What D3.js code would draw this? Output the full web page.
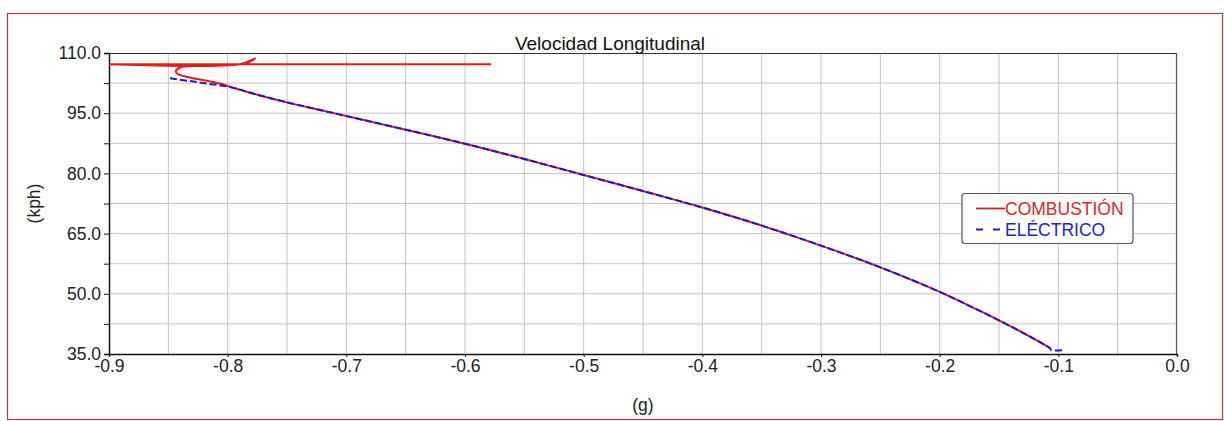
<!DOCTYPE html>
<html>
<head>
<meta charset="utf-8">
<script src="https://cdn.jsdelivr.net/npm/d3@7"></script>
<style>
  html, body { margin: 0; padding: 0; background: #ffffff; }
  svg { display: block; font-family: "Liberation Sans", Arial, sans-serif; }
</style>
</head>
<body>
<svg id="chart" width="1224" height="421"></svg>
<script>
// ---- data ----
const title = "Velocidad Longitudinal";
const xLabel = "(g)";
const yLabel = "(kph)";
const xTickValues = [-0.9, -0.8, -0.7, -0.6, -0.5, -0.4, -0.3, -0.2, -0.1, 0.0];
const yTickValues = [35, 50, 65, 80, 95, 110];
const seriesNames = ["COMBUSTIÓN", "ELÉCTRICO"];

const combustionG = [-0.578, -0.9, -0.79, -0.777, -0.786, -0.81, -0.826, -0.840, -0.8436, -0.8424, -0.8317, -0.8177, -0.8065, -0.798,
  -0.775, -0.75, -0.725, -0.70, -0.65, -0.60, -0.55, -0.50, -0.45, -0.40, -0.35, -0.30, -0.25, -0.20, -0.175, -0.15, -0.125, -0.107];
const combustionKph = [107.2, 107.2, 107.2, 108.6, 107.3, 107.0, 106.8, 106.4, 105.6, 104.8, 103.9, 103.1, 102.4, 101.6,
  99.6, 97.7, 96.0, 94.3, 90.9, 87.4, 83.6, 79.6, 75.6, 71.5, 67.0, 62.0, 56.6, 50.5, 47.0, 43.4, 39.5, 36.5];

const electricG = [-0.8486, -0.8317, -0.8177, -0.798,
  -0.775, -0.75, -0.725, -0.70, -0.65, -0.60, -0.55, -0.50, -0.45, -0.40, -0.35, -0.30, -0.25, -0.20, -0.175, -0.15, -0.125, -0.107, -0.106, -0.095];
const electricKph = [103.7, 103.0, 102.4, 101.5,
  99.6, 97.7, 96.0, 94.3, 90.9, 87.4, 83.6, 79.6, 75.6, 71.5, 67.0, 62.0, 56.6, 50.5, 47.0, 43.4, 39.5, 36.4, 36.0, 36.0];

// ---- layout ----
const svg = d3.select("#chart");
const L = 109, R = 1177, T = 53, B = 354;
const x = d3.scaleLinear().domain([-0.9, 0.0]).range([L, R]);
const y = d3.scaleLinear().domain([35, 110]).range([B, T]);

// outer frame
svg.append("rect").attr("x", 7.5).attr("y", 13.5).attr("width", 1215).attr("height", 406)
  .attr("fill", "#ffffff").attr("stroke", "#b33a3a").attr("stroke-width", 1.2);

// grid
const gridX = d3.range(-0.85, 0.0, 0.05);
const gridY = d3.range(42.5, 110, 7.5);
svg.append("g").selectAll("line").data(gridX).join("line")
  .attr("x1", d => x(d)).attr("x2", d => x(d)).attr("y1", T).attr("y2", B)
  .attr("stroke", "#c4c4c4").attr("stroke-width", 1);
svg.append("g").selectAll("line").data(gridY).join("line")
  .attr("x1", L).attr("x2", R).attr("y1", d => y(d)).attr("y2", d => y(d))
  .attr("stroke", "#c4c4c4").attr("stroke-width", 1);

// plot frame (top + right)
svg.append("line").attr("x1", L).attr("x2", R).attr("y1", T + 0.5).attr("y2", T + 0.5)
  .attr("stroke", "#333").attr("stroke-width", 1.2);
svg.append("line").attr("x1", R - 0.5).attr("x2", R - 0.5).attr("y1", T).attr("y2", B)
  .attr("stroke", "#555").attr("stroke-width", 1.2);

// axes
const yAxis = d3.axisLeft(y).tickValues(d3.range(35, 110.01, 7.5)).tickSize(5)
  .tickFormat(d => yTickValues.includes(d) ? d.toFixed(1) : "");
const gy = svg.append("g").attr("transform", `translate(${L},0)`).call(yAxis);
gy.select(".domain").attr("stroke", "#111").attr("stroke-width", 1.5);
gy.selectAll(".tick line").attr("stroke", "#111");
gy.selectAll(".tick text").attr("font-size", 17.5).attr("fill", "#222").attr("x", -8)
  .attr("font-family", "Liberation Sans, Arial, sans-serif");

const xAxis = d3.axisBottom(x).tickValues(xTickValues).tickSize(3).tickFormat(d => d.toFixed(1));
const gx = svg.append("g").attr("transform", `translate(0,${B})`).call(xAxis);
gx.select(".domain").attr("stroke", "#111").attr("stroke-width", 1.5);
gx.selectAll(".tick line").attr("stroke", "#111");
gx.selectAll(".tick text").attr("font-size", 17.5).attr("fill", "#222").attr("y", 6)
  .attr("font-family", "Liberation Sans, Arial, sans-serif");

// titles
svg.append("text").attr("x", 610).attr("y", 50).attr("text-anchor", "middle")
  .attr("font-size", 19).attr("fill", "#111").text(title);
svg.append("text").attr("x", 643).attr("y", 411).attr("text-anchor", "middle")
  .attr("font-size", 17.5).attr("fill", "#222").text(xLabel);
svg.append("text").attr("transform", `translate(40,${(T + B) / 2}) rotate(-90)`).attr("text-anchor", "middle")
  .attr("font-size", 17.5).attr("fill", "#222").text(yLabel);

// clip
svg.append("clipPath").attr("id", "clip").append("rect")
  .attr("x", L).attr("y", T - 2).attr("width", R - L).attr("height", B - T + 2);

const line = d3.line().x(d => x(d[0])).y(d => y(d[1])).curve(d3.curveCatmullRom.alpha(0.5));
const combustion = combustionG.map((g, i) => [g, combustionKph[i]]);
const electric = electricG.map((g, i) => [g, electricKph[i]]);

const plot = svg.append("g").attr("clip-path", "url(#clip)");
plot.append("path").datum(combustion).attr("d", line)
  .attr("fill", "none").attr("stroke", "#e8191b").attr("stroke-width", 2).attr("stroke-linejoin", "round");
plot.append("path").datum(electric).attr("d", line)
  .attr("fill", "none").attr("stroke", "#1a1ac8").attr("stroke-width", 2).attr("stroke-dasharray", "7,3");

// legend
const lg = svg.append("g");
lg.append("rect").attr("x", 962).attr("y", 193.5).attr("width", 171).attr("height", 50).attr("rx", 3)
  .attr("fill", "#ffffff").attr("stroke", "#555").attr("stroke-width", 1.2);
lg.append("line").attr("x1", 976).attr("x2", 1005).attr("y1", 208.5).attr("y2", 208.5)
  .attr("stroke", "#d42025").attr("stroke-width", 1.8);
lg.append("line").attr("x1", 976).attr("x2", 1001).attr("y1", 229.5).attr("y2", 229.5)
  .attr("stroke", "#1c1cc0").attr("stroke-width", 1.8).attr("stroke-dasharray", "7,10");
lg.append("text").attr("x", 1005).attr("y", 215).attr("font-size", 17.5).attr("fill", "#d42a2a").text(seriesNames[0]);
lg.append("text").attr("x", 1005).attr("y", 236).attr("font-size", 17.5).attr("fill", "#2424b4").text(seriesNames[1]);
</script>
</body>
</html>
